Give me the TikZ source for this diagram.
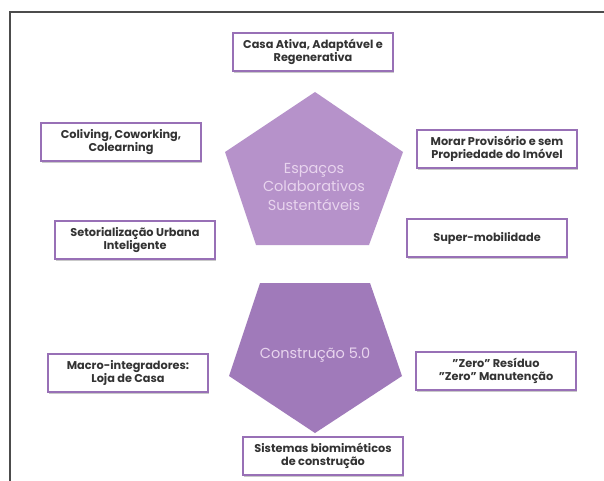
\documentclass[tikz,border=0pt]{standalone}
\usepackage{fontspec}
\setmainfont{Poppins}
\usetikzlibrary{shadows}
\definecolor{lilas}{RGB}{182,146,202}
\definecolor{roxo}{RGB}{160,122,186}
\definecolor{borda}{RGB}{152,112,182}
\definecolor{letra}{RGB}{232,212,238}
\tikzset{
	tema/.style={draw=borda, line width=1.3pt, fill=white, minimum width=160pt, minimum height=38pt,
		align=center, text=black!80, font=\fontsize{11.3}{13.4}\selectfont\bfseries,
		drop shadow={shadow xshift=1pt, shadow yshift=-2pt, fill=black!35, opacity=0.6}},
	centro/.style={align=center, text=letra, font=\fontsize{14.5}{18.5}\selectfont}
}
\begin{document}
\begin{tikzpicture}[x=1pt, y=-1pt]
		\useasboundingbox (0,0) rectangle (604,481);
		\fill [white] (0,0) rectangle (604,481);
		\draw [line width=1.5pt, black!70] (604,12) -- (10,12) -- (10,481);

		\fill [lilas] (315,92) -- (403,152) -- (369,245) -- (256,245) -- (225,152) -- cycle;
		\node (espacos) at (314,187) [centro] {Espaços\\Colaborativos\\Sustentáveis};

		\fill [roxo] (260,283) -- (370,283) -- (402,376) -- (315,433) -- (229,376) -- cycle;
		\node (construcao) at (315,355) [centro] {Construção 5.0};

		\node (casa) at (313,52) [tema] {Casa Ativa, Adaptável e\\Regenerativa};
		\node (coliving) at (121,142) [tema] {Coliving, Coworking,\\Colearning};
		\node (morar) at (497,149) [tema] {Morar Provisório e sem\\Propriedade do Imóvel};
		\node (setor) at (135,240) [tema] {Setorialização Urbana\\Inteligente};
		\node (super) at (487,238) [tema] {Super-mobilidade};
		\node (macro) at (128,373) [tema] {Macro-integradores:\\Loja de Casa};
		\node (zero) at (496,371) [tema] {"Zero" Resíduo\\"Zero" Manutenção};
		\node (sistemas) at (323,456) [tema] {Sistemas biomiméticos\\de construção};

	\end{tikzpicture}
\end{document}
